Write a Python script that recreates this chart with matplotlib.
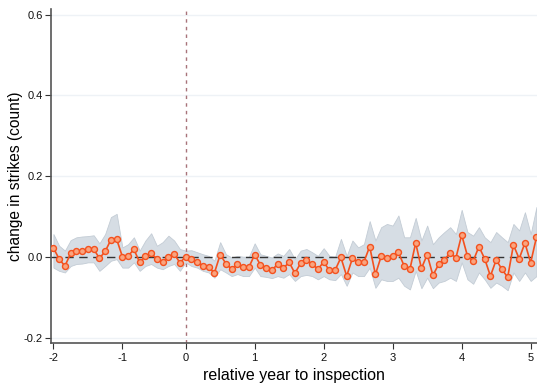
import matplotlib
matplotlib.use("Agg")
import matplotlib.pyplot as plt
import numpy as np

plt.rcParams['font.family'] = ['Liberation Sans', 'DejaVu Sans']

months = list(range(-24, 61))

coef = [0.023, -0.005, -0.022, 0.009, 0.014, 0.014, 0.019, 0.020, -0.003, 0.014,
        0.043, 0.044, 0.001, 0.003, 0.019, -0.013, 0.002, 0.009, -0.005, -0.011,
        0.001, 0.008, -0.014, 0.001, -0.005, -0.011, -0.022, -0.025, -0.039, 0.006,
        -0.016, -0.030, -0.018, -0.025, -0.025, 0.006, -0.019, -0.027, -0.033, -0.017,
        -0.027, -0.013, -0.040, -0.015, -0.008, -0.017, -0.030, -0.012, -0.033, -0.032,
        -0.001, -0.047, -0.003, -0.012, -0.012, 0.026, -0.043, 0.002, -0.002, 0.002,
        0.012, -0.022, -0.030, 0.035, -0.028, 0.006, -0.045, -0.018, -0.006, 0.010,
        -0.002, 0.055, 0.003, -0.010, 0.026, -0.004, -0.047, -0.007, -0.030, -0.050,
        0.030, -0.004, 0.035, -0.014, 0.049]

ci_upper = [0.057, 0.028, 0.016, 0.042, 0.049, 0.051, 0.052, 0.054, 0.034, 0.057,
            0.099, 0.107, 0.024, 0.032, 0.049, 0.016, 0.041, 0.059, 0.028, 0.037,
            0.053, 0.041, 0.020, 0.016, 0.017, 0.012, 0.007, 0.003, -0.009, 0.037,
            0.007, -0.001, 0.003, 0.001, 0.001, 0.034, 0.007, 0.003, -0.001, 0.009,
            0.003, 0.020, -0.005, 0.016, 0.020, 0.012, 0.003, 0.022, 0.003, 0.001,
            0.045, 0.003, 0.041, 0.024, 0.032, 0.089, 0.041, 0.074, 0.082, 0.078,
            0.103, 0.049, 0.049, 0.097, 0.041, 0.078, 0.032, 0.049, 0.062, 0.074,
            0.057, 0.117, 0.062, 0.053, 0.074, 0.049, 0.037, 0.062, 0.049, 0.037,
            0.082, 0.066, 0.111, 0.057, 0.124]

ci_lower = [-0.026, -0.034, -0.038, -0.022, -0.017, -0.016, -0.013, -0.013, -0.034, -0.022,
            -0.009, -0.005, -0.026, -0.026, -0.013, -0.034, -0.022, -0.017, -0.026, -0.030,
            -0.022, -0.017, -0.034, -0.013, -0.022, -0.026, -0.034, -0.038, -0.051, -0.030,
            -0.038, -0.047, -0.042, -0.047, -0.047, -0.026, -0.047, -0.049, -0.052, -0.047,
            -0.051, -0.042, -0.059, -0.047, -0.044, -0.047, -0.055, -0.047, -0.055, -0.057,
            -0.042, -0.071, -0.038, -0.047, -0.047, -0.026, -0.076, -0.055, -0.059, -0.059,
            -0.051, -0.071, -0.080, -0.034, -0.077, -0.051, -0.077, -0.063, -0.059, -0.051,
            -0.059, -0.013, -0.055, -0.066, -0.038, -0.055, -0.076, -0.063, -0.071, -0.082,
            -0.038, -0.059, -0.038, -0.059, -0.047]

xtick_pos = [-24, -12, -1, 11, 23, 35, 47, 59]
xtick_labels = ['-2', '-1', '0', '1', '2', '3', '4', '5']
ytick_pos = [-0.2, 0.0, 0.2, 0.4, 0.6]
ytick_labels = ['-0.2', '0.0', '0.2', '0.4', '0.6']

fig = plt.figure(figsize=(5.37, 3.88), dpi=100)
ax = fig.add_axes([51/537, 45/388, 1 - 51/537, (343 - 9)/388])

for y in ytick_pos:
    if y != 0.0:
        ax.axhline(y, color='#eef2f6', lw=1.0, zorder=0)

ax.fill_between(months, ci_lower, ci_upper, color='#d6dde4', edgecolor='#c3ccd5',
                lw=0.6, zorder=1)
ax.axhline(0, color='#333333', lw=1.0, ls=(0, (6, 4)), zorder=2)
ax.axvline(-1, color='#a8737a', lw=1.0, ls=(0, (2.5, 3)), zorder=2)
ax.plot(months, coef, color='#f4511e', lw=1.2, marker='o', markersize=4.3,
        markerfacecolor='#f9a47f', markeredgecolor='#f4511e', markeredgewidth=1.0,
        zorder=3)

ax.set_xlim(-24.42, 60.1)
ax.set_ylim(-0.2126, 0.614)
ax.set_xticks(xtick_pos)
ax.set_xticklabels(xtick_labels)
ax.set_yticks(ytick_pos)
ax.set_yticklabels(ytick_labels)
ax.tick_params(axis='both', labelsize=8, colors='#333333', length=4, width=0.8,
               labelcolor='#111111')
ax.tick_params(axis='x', pad=3)
ax.tick_params(axis='y', pad=2)
for s in ['top', 'right']:
    ax.spines[s].set_visible(False)
for s in ['left', 'bottom']:
    ax.spines[s].set_color('#555555')
    ax.spines[s].set_linewidth(1.2)

ax.set_xlabel('relative year to inspection', fontsize=11.5, labelpad=4)
ax.set_ylabel('change in strikes (count)', fontsize=11.2)
ax.yaxis.set_label_coords(-0.058, 0.5)

fig.savefig('out.png', dpi=100)
